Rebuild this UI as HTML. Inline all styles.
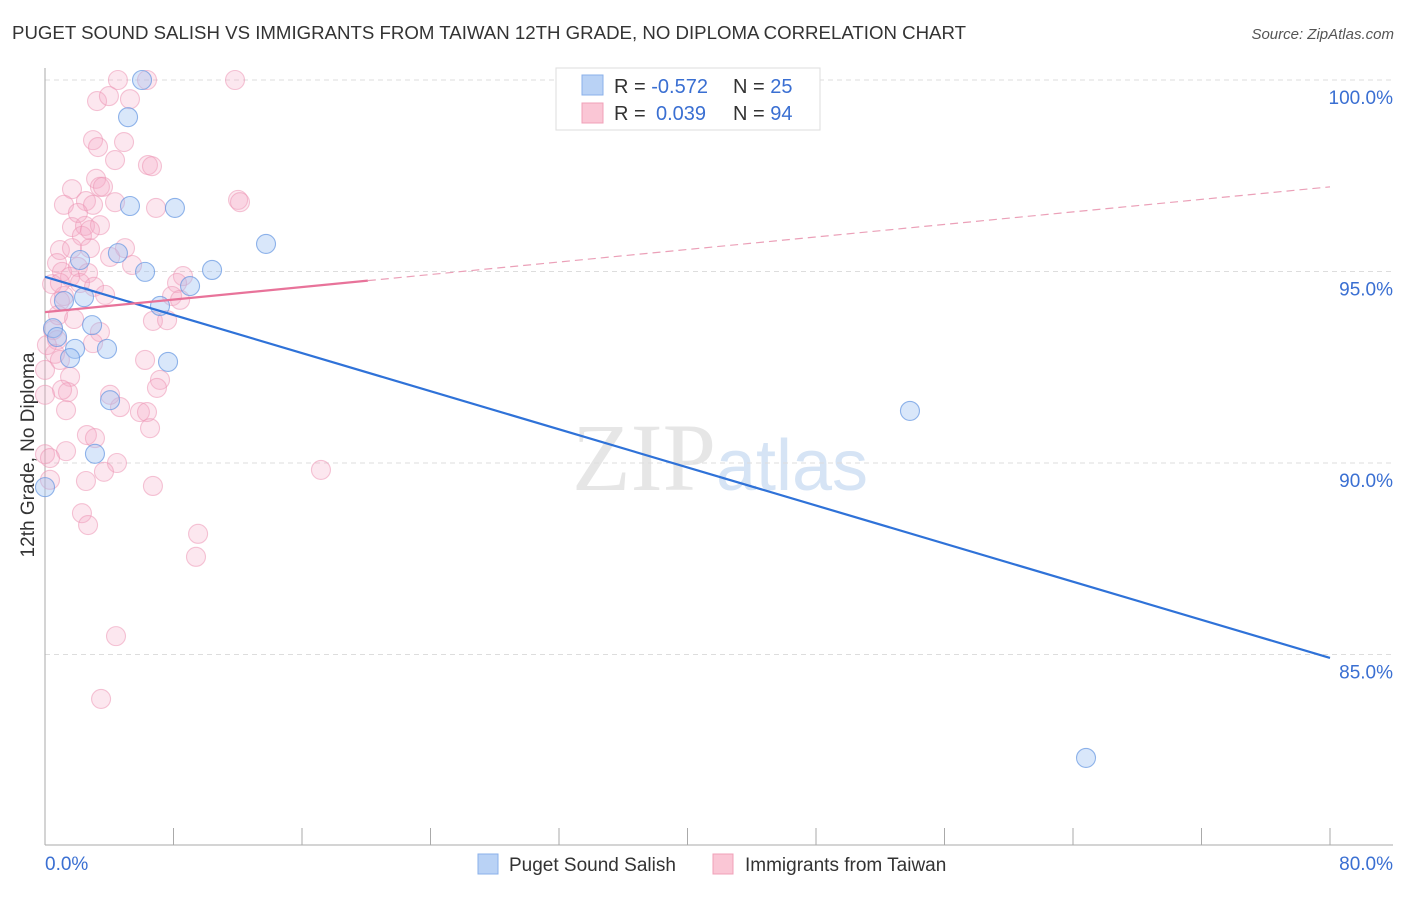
<!DOCTYPE html>
<html><head><meta charset="utf-8"><style>
body{margin:0;background:#fff;font-family:"Liberation Sans",sans-serif}
</style></head><body>
<svg id="chart" width="1406" height="892" xmlns="http://www.w3.org/2000/svg" font-family="Liberation Sans, sans-serif">
<text x="12" y="39" font-size="18" fill="#333" textLength="954" lengthAdjust="spacingAndGlyphs">PUGET SOUND SALISH VS IMMIGRANTS FROM TAIWAN 12TH GRADE, NO DIPLOMA CORRELATION CHART</text>
<text x="1394" y="39" font-size="15" fill="#555" text-anchor="end" font-style="italic">Source: ZipAtlas.com</text>
<text x="720" y="490" font-size="96" text-anchor="middle" fill="#e6e6e6" font-family="Liberation Serif, serif">ZIP<tspan fill="#d6e4f5" font-family="Liberation Sans, sans-serif" font-size="72">atlas</tspan></text>
<g id="grid"></g><g id="marks"></g><g id="lines"></g>
<text transform="translate(34,455) rotate(-90)" font-size="19" fill="#333" text-anchor="middle">12th Grade, No Diploma</text>
<g>
<rect x="556" y="68" width="264" height="62" fill="#fff" stroke="#ddd"/>
<rect x="582" y="75" width="21" height="20" fill="#b9d2f5" stroke="#8ab0ea"/>
<rect x="582" y="103" width="21" height="20" fill="#fac6d5" stroke="#f0a0b8"/>
<text x="614" y="93" font-size="20" fill="#333">R = <tspan fill="#3a6fd2">-0.572</tspan></text>
<text x="733" y="93" font-size="20" fill="#333">N = <tspan fill="#3a6fd2">25</tspan></text>
<text x="614" y="120" font-size="20" fill="#333">R = <tspan fill="#3a6fd2" x="656">0.039</tspan></text>
<text x="733" y="120" font-size="20" fill="#333">N = <tspan fill="#3a6fd2">94</tspan></text>
</g>
<g>
<rect x="478" y="854" width="20" height="20" fill="#b9d2f5" stroke="#8ab0ea"/>
<text x="509" y="871" font-size="19" fill="#333">Puget Sound Salish</text>
<rect x="713" y="854" width="20" height="20" fill="#fac6d5" stroke="#f0a0b8"/>
<text x="745" y="871" font-size="19" fill="#333">Immigrants from Taiwan</text>
</g>
</svg>
<script>
const yTicks=[100,95,90,85];
const yTickLabels=["100.0%","95.0%","90.0%","85.0%"];
const xTickLabels=["0.0%","80.0%"];
const blueX=[6.04,5.17,5.29,8.09,13.76,2.18,4.54,6.23,10.40,9.03,2.43,1.18,7.16,2.93,0.50,0.75,1.87,3.86,1.56,7.66,4.05,3.11,0,53.85,64.81];
const blueY=[100,99.03,96.71,96.66,95.72,95.30,95.48,94.99,95.04,94.62,94.33,94.23,94.10,93.60,93.52,93.29,92.98,92.98,92.74,92.64,91.64,90.24,89.37,91.36,82.30];
const pinkX=[4.54,6.35,11.83,3.24,3.98,5.29,2.99,4.92,3.30,4.36,6.41,6.66,3.18,3.42,3.61,1.68,1.18,2.55,2.99,4.36,1.68,2.49,3.42,12.02,12.14,6.91,2.30,0.93,1.68,2.80,4.98,4.05,0.75,2.05,5.42,1.06,2.68,1.56,8.59,0.44,2.18,3.05,8.22,7.91,8.41,1.18,0.93,1.81,3.42,6.72,0.50,0.75,0.62,0,1.56,2.99,0.93,6.23,7.16,6.97,1.43,1.06,4.67,5.91,6.35,6.54,2.61,3.11,1.31,0,0.31,4.48,3.67,2.55,6.72,17.18,2.30,2.68,9.53,9.40,4.42,3.49,0.31,0,2.05,3.74,0.81,0.12,2.80,1.31,0.93,4.05,7.60];
const pinkY=[100,100,100,99.45,99.58,99.50,98.43,98.38,98.25,97.91,97.78,97.75,97.42,97.21,97.21,97.15,96.74,96.84,96.74,96.81,96.16,96.19,96.21,96.87,96.81,96.66,95.93,95.56,95.61,95.61,95.61,95.38,95.22,95.12,95.17,94.99,94.96,94.86,94.88,94.67,94.70,94.60,94.70,94.36,94.26,94.36,94.23,93.76,93.42,93.71,93.47,93.21,92.85,92.43,92.25,93.13,92.69,92.69,92.17,91.96,91.85,91.91,91.46,91.33,91.33,90.91,90.73,90.65,90.31,90.23,90.13,90.00,89.77,89.53,89.40,89.82,88.69,88.38,88.15,87.55,85.48,83.84,89.56,91.78,96.53,94.39,93.86,93.08,96.08,91.38,94.70,91.78,93.73];
const blueTrend=[94.86,84.91];
const pinkTrend=[93.94,97.21];
const pinkSolidEnd=20.1;
const NS="http://www.w3.org/2000/svg";
const sx=v=>45+v*(1285/80);
const sy=v=>80+(100-v)*38.3;
function mk(t,a,p){const e=document.createElementNS(NS,t);for(const k in a)e.setAttribute(k,a[k]);p.appendChild(e);return e;}
const grid=document.getElementById('grid'),marks=document.getElementById('marks'),lines=document.getElementById('lines');
yTicks.forEach((t,i)=>{
 const l=mk('line',{x1:45,x2:1393,y1:sy(t),y2:sy(t),stroke:'#ddd','stroke-dasharray':'5,4'},grid);
 
 
 const tx=mk('text',{x:1393,y:sy(t)+24,'font-size':19,fill:'#3a6fd2','text-anchor':'end'},grid);
 tx.textContent=yTickLabels[i];
 
 
});
const ax=mk('line',{x1:45,x2:45,y1:68,y2:845,stroke:'#aaa'},grid);


const bx=mk('line',{x1:45,x2:1393,y1:845,y2:845,stroke:'#aaa'},grid);


for(let i=0;i<=10;i++){
 const t=mk('line',{x1:sx(i*8),x2:sx(i*8),y1:828,y2:845,stroke:'#aaa'},grid);
 
 
}
[[0,'start',xTickLabels[0]],[80,'end',xTickLabels[1]]].forEach(([v,a,s])=>{
 const t=mk('text',{x:v==0?sx(0):1393,y:870,'font-size':19,fill:'#3a6fd2','text-anchor':a},grid);
 t.textContent=s;
 
 
});
pinkX.forEach((x,i)=>{
 const c=mk('circle',{cx:sx(x),cy:sy(pinkY[i]),r:9.5,fill:'rgba(246,170,196,0.28)',stroke:'rgba(236,150,180,0.55)','stroke-width':1.1},marks);
 
 
});
blueX.forEach((x,i)=>{
 const c=mk('circle',{cx:sx(x),cy:sy(blueY[i]),r:9.5,fill:'rgba(160,196,242,0.4)',stroke:'rgba(100,150,225,0.7)','stroke-width':1.1},marks);
 
 
});
const bl=mk('line',{x1:sx(0),y1:sy(blueTrend[0]),x2:sx(80),y2:sy(blueTrend[1]),stroke:'#2f72d8','stroke-width':2.2},lines);


const pv=x=>pinkTrend[0]+(pinkTrend[1]-pinkTrend[0])*x/80;
const pl=mk('line',{x1:sx(0),y1:sy(pv(0)),x2:sx(pinkSolidEnd),y2:sy(pv(pinkSolidEnd)),stroke:'#e8739a','stroke-width':2.2},lines);


const pd=mk('line',{x1:sx(pinkSolidEnd),y1:sy(pv(pinkSolidEnd)),x2:sx(80),y2:sy(pv(80)),stroke:'#eba0b8','stroke-width':1.2,'stroke-dasharray':'8,5'},lines);


</script>
</body></html>
